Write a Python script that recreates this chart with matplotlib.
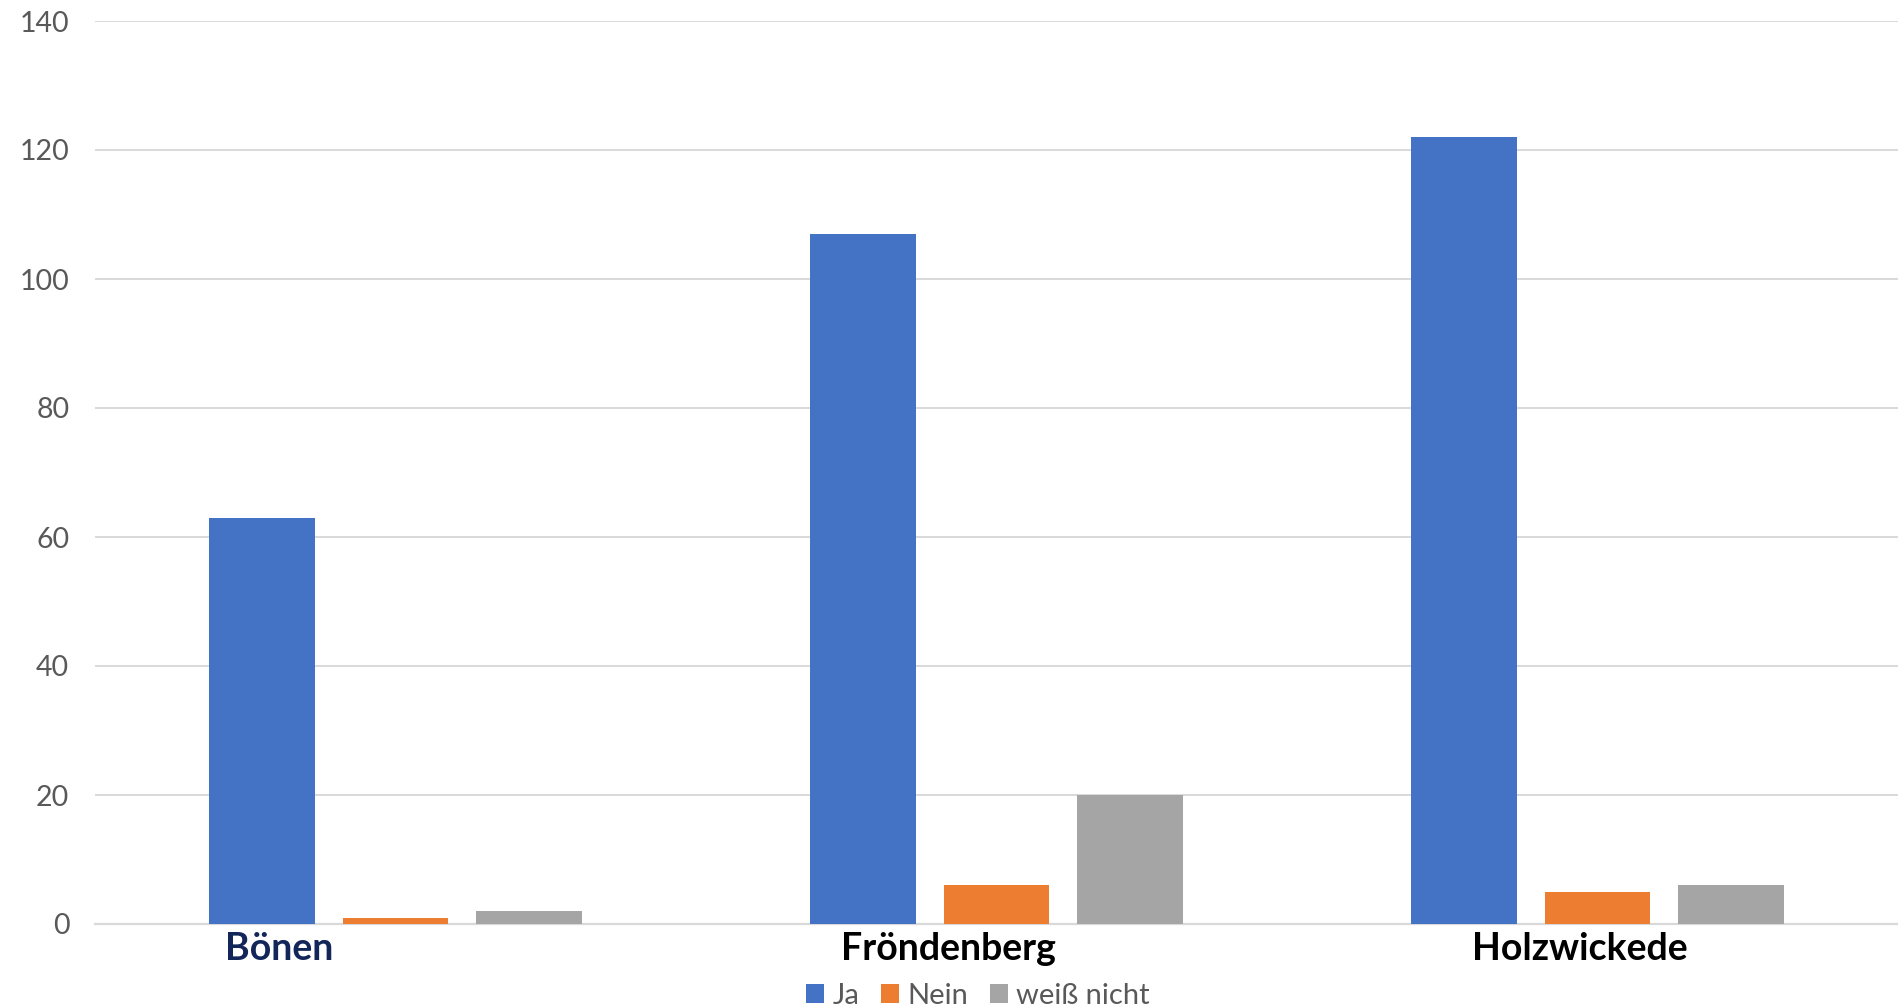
import numpy as np
import matplotlib
matplotlib.use("Agg")
import matplotlib.pyplot as plt

# --- DATA ---
orte = ["Bönen", "Fröndenberg", "Holzwickede"]
ja = [63, 107, 122]
nein = [1, 6, 5]
weiss_nicht = [2, 20, 6]
serien = ["Ja", "Nein", "weiß nicht"]

# label shift per category (labels are not centred under the groups)
label_shift = [-0.193, -0.08, -0.03]
label_colors = ["#13265A", "black", "black"]
farben = ["#4472C4", "#ED7D31", "#A5A5A5"]

plt.rcParams['font.family'] = ['Lato', 'DejaVu Sans']

fig = plt.figure(figsize=(18.98, 10.08), dpi=100)
ax = fig.add_axes([95 / 1898, 84 / 1008, 1 - 95 / 1898, (924 - 21) / 1008])

x = np.arange(len(orte))
w = 0.175
step = 0.222
for i, (vals, name) in enumerate(zip([ja, nein, weiss_nicht], serien)):
    ax.bar(x + (i - 1) * step, vals, width=w, color=farben[i], label=name, zorder=3)

ax.set_xlim(-0.5, 2.5)
ax.set_ylim(0, 140)
ax.set_yticks(range(0, 141, 20))
ax.grid(axis='y', color='#D9D9D9', linewidth=1.4, zorder=0)
for s in ['top', 'right', 'left']:
    ax.spines[s].set_visible(False)
ax.spines['bottom'].set_color('#D9D9D9')
ax.spines['bottom'].set_linewidth(1.6)
ax.tick_params(axis='y', length=0, labelsize=20.5, labelcolor='#595959', pad=18.5)
ax.tick_params(axis='x', length=0, pad=6)

ax.set_xticks(x + np.array(label_shift))
ax.set_xticklabels(orte, fontsize=27, fontweight='bold')
for lab, c in zip(ax.get_xticklabels(), label_colors):
    lab.set_color(c)

fig.legend(loc='lower center', bbox_to_anchor=(978 / 1898, -0.027), ncol=3,
           frameon=False, fontsize=21, labelcolor='#595959', handlelength=0.6,
           handleheight=0.6, handletextpad=0.3, columnspacing=0.75)

fig.savefig("out.png", dpi=100)
